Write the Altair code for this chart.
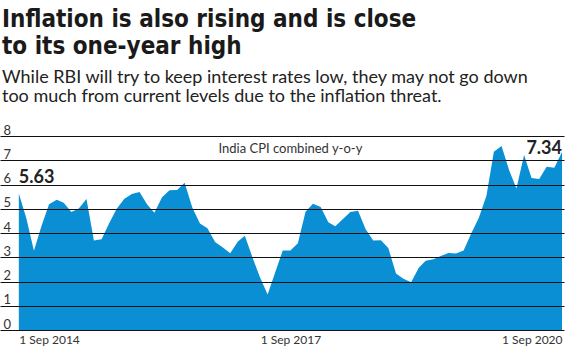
import altair as alt
import pandas as pd

# Monthly India CPI combined, y-o-y %, Sep 2014 .. Sep 2020
start_month = "2014-09-01"
cpi = [
    5.63, 4.62, 3.27, 4.28,                                            # 2014 Sep-Dec
    5.19, 5.37, 5.25, 4.87, 5.01, 5.40, 3.69, 3.74, 4.41, 5.00, 5.41, 5.61,  # 2015
    5.69, 5.18, 4.83, 5.47, 5.76, 5.77, 6.07, 5.05, 4.39, 4.20, 3.63, 3.41,  # 2016
    3.17, 3.65, 3.89, 2.99, 2.18, 1.46, 2.36, 3.28, 3.28, 3.58, 4.88, 5.21,  # 2017
    5.07, 4.44, 4.28, 4.58, 4.87, 4.92, 4.17, 3.69, 3.70, 3.38, 2.33, 2.11,  # 2018
    1.97, 2.57, 2.86, 2.92, 3.05, 3.18, 3.15, 3.28, 3.99, 4.62, 5.54, 7.35,  # 2019
    7.59, 6.58, 5.84, 7.22, 6.27, 6.23, 6.73, 6.69, 7.34,                    # 2020 Jan-Sep
]
y_ticks = [0, 1, 2, 3, 4, 5, 6, 7, 8]
x_tick_dates = ["2014-09-01", "2017-09-01", "2020-09-01"]
title_lines = ["Inflation is also rising and is close", "to its one-year high"]
subtitle_lines = [
    "While RBI will try to keep interest rates low, they may not go down",
    "too much from current levels due to the inflation threat.",
]
series_label = "India CPI combined y-o-y"
series_label_date = "2017-09-01"
series_label_value = 7.45

dates = pd.date_range(start_month, periods=len(cpi), freq="MS")
df = pd.DataFrame({"date": dates, "cpi": cpi})
first = df.iloc[[0]].assign(label=[f"{cpi[0]:.2f}"])
last = df.iloc[[-1]].assign(label=[f"{cpi[-1]:.2f}"])
note = pd.DataFrame({"date": [pd.Timestamp(series_label_date)],
                     "cpi": [series_label_value], "label": [series_label]})

x_scale = alt.Scale(domain=["2014-06-17", "2020-09-09"])
y_scale = alt.Scale(domain=[0, 8], nice=False)
lab_font = "Lato"

x_axis = alt.Axis(
    values=[pd.Timestamp(d).strftime("%Y-%m-%dT00:00:00") for d in x_tick_dates],
    format="%-d %b %Y", labelFlush=25, grid=False, ticks=False, domain=False,
    labelFont=lab_font, labelFontSize=12, labelColor="#333333", labelPadding=4,
)
y_axis = alt.Axis(
    values=y_ticks, grid=True, gridColor="#111111", gridWidth=1, gridOpacity=1,
    ticks=False, tickSize=0, domain=False, labelAlign="left", labelPadding=-3,
    labelBaseline="alphabetic", labelOffset=-2, labelFont=lab_font,
    labelFontSize=13, labelColor="#333333", labelOverlap=False, zindex=1,
)
x_enc = alt.X("date:T", scale=x_scale, title=None, axis=x_axis)
y_enc = alt.Y("cpi:Q", scale=y_scale, title=None, axis=y_axis)

area = alt.Chart(df).mark_area(color="#0a8fd4", interpolate="linear").encode(
    x=x_enc, y=y_enc
)
first_txt = alt.Chart(first).mark_text(
    align="left", baseline="alphabetic", dx=0, dy=-10, fontSize=18,
    fontWeight="bold", font=lab_font, color="#222222"
).encode(x=x_enc, y=y_enc, text="label:N")
last_txt = alt.Chart(last).mark_text(
    align="right", baseline="alphabetic", dx=0, dy=2, fontSize=18,
    fontWeight="bold", font=lab_font, color="#222222"
).encode(x=x_enc, y=y_enc, text="label:N")
note_txt = alt.Chart(note).mark_text(
    align="center", baseline="middle", fontSize=13, font=lab_font, color="#333333"
).encode(x=x_enc, y=y_enc, text="label:N")

chart = alt.layer(area, first_txt, last_txt, note_txt).properties(
    width=564, height=194,
    autosize=alt.AutoSizeParams(type="none"),
    padding={"left": 0, "top": 136, "right": 4, "bottom": 20},
    title=alt.TitleParams(
        text=title_lines, subtitle=subtitle_lines, anchor="start", frame="group",
        font="DejaVu Sans Condensed, Roboto", fontSize=24, fontWeight="bold",
        color="#1a1a1a", lineHeight=27, subtitleFont="Lato", subtitleFontSize=18,
        subtitleColor="#222222", subtitleLineHeight=19, subtitlePadding=10,
        offset=18, dx=2,
    ),
).configure_view(stroke=None)

chart.save("out.html", embed_options={"renderer": "svg", "actions": False})
